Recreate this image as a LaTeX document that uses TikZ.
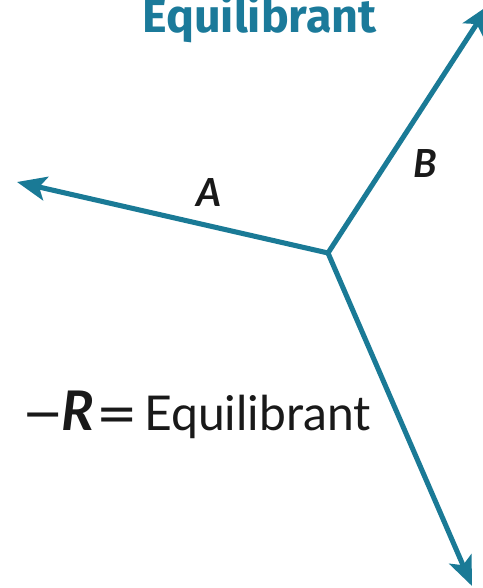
\documentclass[tikz,border=0pt]{standalone}
\usepackage{fontspec}
\setmainfont{Lato}
\newfontfamily\titlefont{Fira Sans}
\newfontfamily\symfont{DejaVu Sans}
\usetikzlibrary{arrows.meta}
\definecolor{vec}{HTML}{1A7A96}
\definecolor{ttl}{HTML}{1B7A9A}
\tikzset{
  vecline/.style={draw=vec, line width=3.8pt, -{Stealth[length=22pt,width=18pt,inset=5pt]}},
  veclabel/.style={font=\fontsize{29}{30}\selectfont\bfseries\itshape, text=black!90},
}
\newcommand{\symglyph}[1]{{\symfont\fontsize{37}{38}\selectfont #1}}
\begin{document}
\begin{tikzpicture}[x=0.75pt,y=-0.75pt]
\useasboundingbox (0,0) rectangle (482,588);
\coordinate (O) at (328,253);
\coordinate (Atip) at (17,182);
\coordinate (Btip) at (489,5);
\coordinate (Etip) at (472,586);
\draw[vecline] (O) -- (Atip);
\draw[vecline] (O) -- (Btip);
\draw[vecline] (O) -- (Etip);
\node[font=\titlefont\fontsize{35}{37}\selectfont\bfseries, text=ttl, anchor=base, inner sep=0pt] (title) at (259.5,33) {Equilibrant};
\node[veclabel] (A) at (209,193) {A};
\node[veclabel] (B) at (425,164) {B};
\node[font=\fontsize{36}{38}\selectfont, text=black!90, anchor=base east, inner sep=0pt] (eq) at (371,430) {\symglyph{−}\kern-2pt{\fontsize{41}{41}\selectfont\textbf{\textit{R}}}\kern2pt\symglyph{=}\kern5pt Equilibrant};
\end{tikzpicture}
\end{document}
